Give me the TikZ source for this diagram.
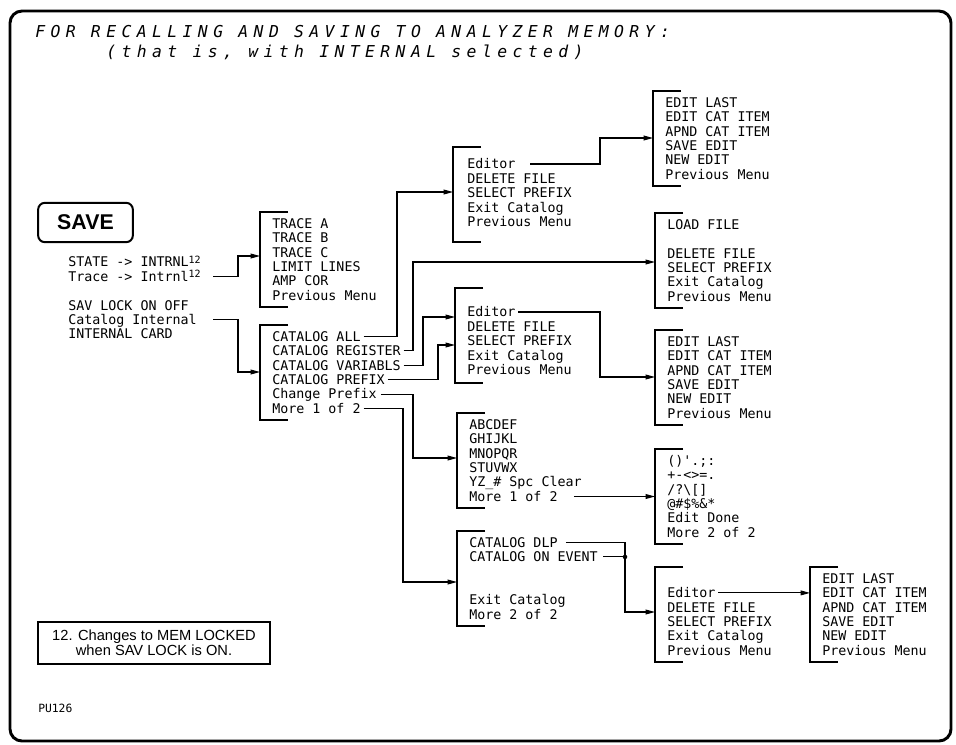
\documentclass[tikz,border=0pt]{standalone}
\usepackage{fontspec}
\usetikzlibrary{arrows.meta}
\newfontfamily\plotfont{DejaVu Sans Mono}
\newfontfamily\titlefont[LetterSpace=33]{DejaVu Sans Mono}
\newfontfamily\keyfont{Liberation Sans}
\newcommand\sups[1]{\raisebox{2.6pt}{\fontsize{7.5}{8}\selectfont #1}}
\newcommand\bracketat[2]{\draw[brk] (#1+28,#2) -| (#1,#2+95) -- (#1+28,#2+95);}
\tikzset{
  item/.style={font=\plotfont\fontsize{10}{12}\selectfont, anchor=west, inner sep=0pt, text height=7.3pt, text depth=0pt},
  ttl/.style={font=\titlefont\itshape\fontsize{12.3}{14}\selectfont, anchor=west, inner sep=0pt, text height=9pt, text depth=0pt},
  brk/.style={line width=1.8pt},
  conn/.style={line width=0.8pt},
  arr/.style={conn, -{Triangle[length=7pt,width=3.6pt]}},
  savekey/.style={draw, line width=1.5pt, rounded corners=5pt, minimum width=71pt, minimum height=29.5pt, inner sep=0pt, font=\keyfont\bfseries\fontsize{16}{18}\selectfont},
  notebox/.style={draw, line width=1.4pt, minimum width=174pt, minimum height=31.5pt, inner sep=0pt, align=center, font=\keyfont\fontsize{11}{11}\selectfont},
}
\begin{document}
\begin{tikzpicture}[x=0.75pt,y=-0.75pt]
\useasboundingbox (0,0) rectangle (956,744);
\draw[line width=2.2pt, rounded corners=9pt] (10,11) rectangle (951,741);

% title
\node[ttl] (t1) at (35,31) {FOR RECALLING AND SAVING TO ANALYZER MEMORY:};
\node[ttl] (t2) at (106,51) {(that is, with INTERNAL selected)};

% SAVE key and its menu
\node[savekey] (save) at (85.5,222.5) {SAVE};
\node[item] (s1) at (68,262) {STATE -> INTRNL\sups{12}};
\node[item] (s2) at (68,276.4) {Trace -> Intrnl\sups{12}};
\node[item] (s3) at (68,305.2) {SAV LOCK ON OFF};
\node[item] (s4) at (68,319.6) {Catalog Internal};
\node[item] (s5) at (68,334) {INTERNAL CARD};

% arrow targets on brackets
\coordinate (trcin) at (260,256);
\coordinate (catin) at (260,372);
\coordinate (ed1in) at (453,192);
\coordinate (el1in) at (653,138);
\coordinate (loadin) at (655,262);
\coordinate (ed2ina) at (455,317);
\coordinate (ed2inb) at (455,345);
\coordinate (el2in) at (655,377);
\coordinate (abcin) at (457,458);
\coordinate (symin) at (655,496.5);
\coordinate (dlpin) at (457,582);
\coordinate (junc) at (625,556.9);
\coordinate (ed3in) at (655,612);
\coordinate (el3in) at (810,592.9);

% TRACE menu
\bracketat{260}{212}
\node[item] (tr1) at (272,223.5) {TRACE A};
\node[item] (tr2) at (272,237.9) {TRACE B};
\node[item] (tr3) at (272,252.3) {TRACE C};
\node[item] (tr4) at (272,266.7) {LIMIT LINES};
\node[item] (tr5) at (272,281.1) {AMP COR};
\node[item] (tr6) at (272,295.5) {Previous Menu};

% CATALOG menu
\bracketat{260}{325}
\node[item] (c1) at (272,336.5) {CATALOG ALL};
\node[item] (c2) at (272,350.9) {CATALOG REGISTER};
\node[item] (c3) at (272,365.3) {CATALOG VARIABLS};
\node[item] (c4) at (272,379.7) {CATALOG PREFIX};
\node[item] (c5) at (272,394.1) {Change Prefix};
\node[item] (c6) at (272,408.5) {More 1 of 2};

% Editor menu 1
\bracketat{453}{147}
\node[item] (e1a) at (467,164) {Editor};
\node[item] (e1b) at (467,178.4) {DELETE FILE};
\node[item] (e1c) at (467,192.8) {SELECT PREFIX};
\node[item] (e1d) at (467,207.2) {Exit Catalog};
\node[item] (e1e) at (467,221.6) {Previous Menu};

% EDIT LAST menu 1
\bracketat{653}{91}
\node[item] (l1a) at (665,102.5) {EDIT LAST};
\node[item] (l1b) at (665,116.9) {EDIT CAT ITEM};
\node[item] (l1c) at (665,131.3) {APND CAT ITEM};
\node[item] (l1d) at (665,145.7) {SAVE EDIT};
\node[item] (l1e) at (665,160.1) {NEW EDIT};
\node[item] (l1f) at (665,174.5) {Previous Menu};

% LOAD FILE menu
\bracketat{655}{213}
\node[item] (ld1) at (667,224.5) {LOAD FILE};
\node[item] (ld2) at (667,253.3) {DELETE FILE};
\node[item] (ld3) at (667,267.7) {SELECT PREFIX};
\node[item] (ld4) at (667,282.1) {Exit Catalog};
\node[item] (ld5) at (667,296.5) {Previous Menu};

% Editor menu 2
\bracketat{455}{288}
\node[item] (e2a) at (467,312) {Editor};
\node[item] (e2b) at (467,326.4) {DELETE FILE};
\node[item] (e2c) at (467,340.8) {SELECT PREFIX};
\node[item] (e2d) at (467,355.2) {Exit Catalog};
\node[item] (e2e) at (467,369.6) {Previous Menu};

% EDIT LAST menu 2
\bracketat{655}{330}
\node[item] (l2a) at (667,341.5) {EDIT LAST};
\node[item] (l2b) at (667,355.9) {EDIT CAT ITEM};
\node[item] (l2c) at (667,370.3) {APND CAT ITEM};
\node[item] (l2d) at (667,384.7) {SAVE EDIT};
\node[item] (l2e) at (667,399.1) {NEW EDIT};
\node[item] (l2f) at (667,413.5) {Previous Menu};

% ABCDEF menu
\bracketat{457}{413}
\node[item] (a1) at (469,424.5) {ABCDEF};
\node[item] (a2) at (469,438.9) {GHIJKL};
\node[item] (a3) at (469,453.3) {MNOPQR};
\node[item] (a4) at (469,467.7) {STUVWX};
\node[item] (a5) at (469,482.1) {YZ\_\# Spc Clear};
\node[item] (a6) at (469,496.5) {More 1 of 2};

% symbols menu
\bracketat{655}{449}
\node[item] (y1) at (667,460.5) {()'.;:};
\node[item] (y2) at (667,474.9) {+-<>=.};
\node[item] (y3) at (667,489.3) {/?\textbackslash[]};
\node[item] (y4) at (667,503.7) {@\#\$\%\&*};
\node[item] (y5) at (667,518.1) {Edit Done};
\node[item] (y6) at (667,532.5) {More 2 of 2};

% DLP menu
\bracketat{457}{531}
\node[item] (d1) at (469,542.5) {CATALOG DLP};
\node[item] (d2) at (469,556.9) {CATALOG ON EVENT};
\node[item] (d3) at (469,600.1) {Exit Catalog};
\node[item] (d4) at (469,614.5) {More 2 of 2};

% Editor menu 3
\bracketat{655}{567}
\node[item] (f1) at (667,592.9) {Editor};
\node[item] (f2) at (667,607.3) {DELETE FILE};
\node[item] (f3) at (667,621.7) {SELECT PREFIX};
\node[item] (f4) at (667,636.1) {Exit Catalog};
\node[item] (f5) at (667,650.5) {Previous Menu};

% EDIT LAST menu 3
\bracketat{810}{567}
\node[item] (l3a) at (822,578.5) {EDIT LAST};
\node[item] (l3b) at (822,592.9) {EDIT CAT ITEM};
\node[item] (l3c) at (822,607.3) {APND CAT ITEM};
\node[item] (l3d) at (822,621.7) {SAVE EDIT};
\node[item] (l3e) at (822,636.1) {NEW EDIT};
\node[item] (l3f) at (822,650.5) {Previous Menu};

% connectors
\draw[arr] (213,0 |- s2) -| (238,256) -- (trcin);
\draw[arr] (213,0 |- s4) -| (238,372) -- (catin);
\draw[arr] ([xshift=2pt]c1.east) -| (397,192) -- (ed1in);
\draw[arr] ([xshift=2pt]c2.east) -| (413,262) -- (loadin);
\draw[arr] ([xshift=2pt]c3.east) -| (423,317) -- (ed2ina);
\draw[arr] ([xshift=2pt]c4.east) -| (438,345) -- (ed2inb);
\draw[arr] ([xshift=3pt]c5.east) -| (413,458) -- (abcin);
\draw[arr] ([xshift=2pt]c6.east) -| (403,582) -- (dlpin);
\draw[arr] ([xshift=11pt]e1a.east) -| (600,138) -- (el1in);
\draw[arr] ([xshift=2pt]e2a.east) -| (600,377) -- (el2in);
\draw[arr] ([xshift=12pt]a6.east) -- (symin);
\draw[conn] ([xshift=6pt]d1.east) -| (junc);
\draw[arr] ([xshift=4pt]d2.east) -- (junc) |- (ed3in);
\fill (junc) circle (1.7pt);
\draw[arr] ([xshift=2pt]f1.east) -- (el3in);

% footnote and figure code
\node[notebox] (note) at (154,643) {12. Changes to MEM LOCKED\\when SAV LOCK is ON.};
\node[item, font=\plotfont\fontsize{8.5}{9}\selectfont, text height=6.2pt] (pu) at (38,708) {PU126};
\end{tikzpicture}
\end{document}
